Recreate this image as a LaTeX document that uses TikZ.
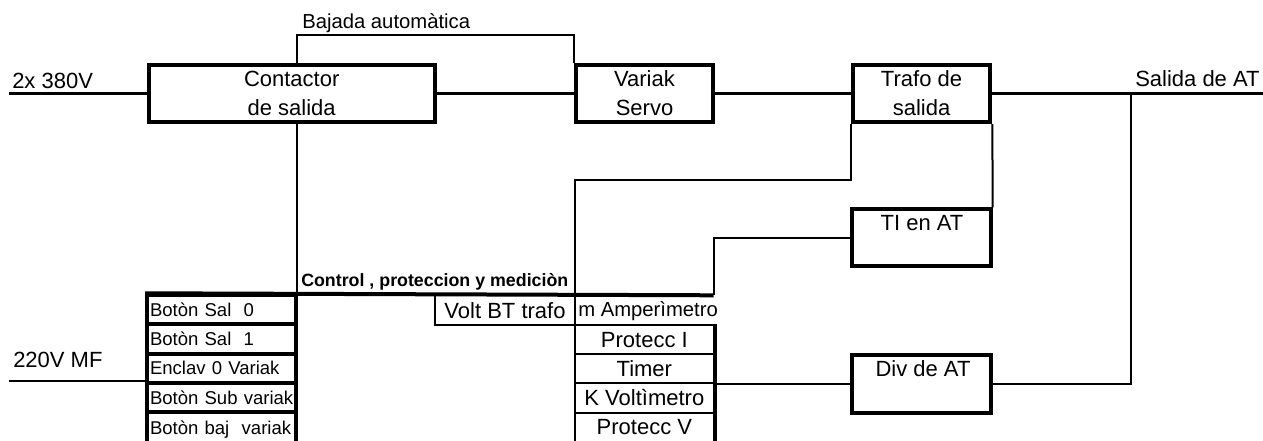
\documentclass[tikz,border=0pt]{standalone}
\usepackage{fontspec}
\setmainfont{Liberation Sans}
\usetikzlibrary{calc}
\newcommand\fsmain{\fontsize{16.5}{21.75}\selectfont}
\newcommand\fsmid{\fontsize{15.2}{18}\selectfont}
\newcommand\fsbtn{\fontsize{13.9}{16}\selectfont}
\newcommand\fsctl{\fontsize{13.35}{16}\selectfont\bfseries}
\begin{document}
\begin{tikzpicture}[x=0.75pt,y=-0.75pt,
  boxline/.style={line width=3pt},
  mainline/.style={line width=2.5pt},
  thinline/.style={line width=1.5pt},
  bigbox/.style={draw, boxline, inner sep=0pt, align=center, font=\fsmain, minimum height=43pt},
  btn/.style={draw, boxline, inner xsep=2.25pt, inner ysep=0pt, text width=107.6pt, align=left,
              minimum height=21.9pt, font=\fsbtn},
  rrow/.style={draw, thinline, inner sep=0pt, minimum width=104pt, minimum height=21.9pt, font=\fsmain},
  txt/.style={inner sep=0pt, font=\fsmain},
]
\useasboundingbox (0,0) rectangle (1263,441);

% main boxes
\node[bigbox, minimum width=214.5pt] (contactor) at (291.7,93.5) {Contactor\\de salida};
\node[bigbox, minimum width=102.75pt] (variak) at (644.5,93.5) {Variak\\Servo};
\node[bigbox, minimum width=103.2pt] (trafo) at (921.5,93.5) {Trafo de\\salida};
\node[draw, boxline, inner sep=0pt, minimum width=104pt, minimum height=42.75pt] (ti) at (921.4,237.8) {};
\node[txt, anchor=base] (tilabel) at (922,231) {TI en AT};
\node[draw, boxline, inner sep=0pt, minimum width=104pt, minimum height=43.5pt] (div) at (921.4,384.3) {};
\node[txt, anchor=base] (divlabel) at (923,377) {Div de AT};

% coordinates
\coordinate (in380) at (9,93.5);
\coordinate (out) at (1266,93.5);
\coordinate (in220) at (9,384);
\coordinate (cj) at (297,295.3);
\coordinate (bj) at (0,35);
\coordinate (tp) at (575,180);
\coordinate (colbot) at (575,448);
\coordinate (c713) at (713.7,295.3);
\coordinate (tap) at (1131,93.5);

% labels
\node[txt, anchor=base west] (l380) at (12,89) {2x 380V};
\node[txt, anchor=base west] (lout) at (1135,87) {Salida de AT};
\node[txt, anchor=base west] (l220) at (13,368) {220V MF};
\node[txt, anchor=base west, font=\fsmid] (lbaj) at (302,29) {Bajada automàtica};
\node[txt, anchor=base west, font=\fsctl] (lctl) at (301,287) {Control , proteccion y mediciòn};

% buttons
\node[btn] (b1) at (221.75,309.9) {Botòn Sal\ \ 0};
\node[btn] (b2) at (221.75,339.1) {Botòn Sal\ \ 1};
\node[btn] (b3) at (221.75,368.3) {Enclav 0 Variak};
\node[btn] (b4) at (221.75,397.5) {Botòn Sub variak};
\node[btn, minimum height=25.5pt] (b5) at (221.75,429.1) {Botòn baj\ \ variak};

% right column
\node[draw, thinline, inner sep=0pt, minimum width=105pt, minimum height=22.3pt, font=\fsmain] (volt) at (505,310.15) {Volt BT trafo};
\node[txt, anchor=base west, font=\fsmid] (amp) at (578,317) {m Amperìmetro};
\node[rrow] (pi) at (644.35,339.6) {Protecc I};
\node[rrow] (tim) at (644.35,368.8) {Timer};
\node[rrow] (kv) at (644.35,398.0) {K Voltìmetro};
\node[rrow, draw=none] (pv) at (644.35,427.2) {Protecc V};
\draw[boxline] (pi.north east) -- ($(pv.south east)+(0,8)$);

% main power line
\draw[mainline] (in380) -- (contactor.west);
\draw[mainline] (contactor.east) -- (variak.west);
\draw[mainline] (variak.east) -- (trafo.west);
\draw[mainline] (trafo.east) -- (out);

% thin connectors
\draw[thinline] (contactor.north -| cj) -- (cj |- bj) -- (variak.north west |- bj) -- (variak.north west);
\draw[thinline] (contactor.south -| cj) -- (cj);
\draw[boxline] (b1.north west) -- (c713);
\draw[thinline] (trafo.south west) |- (tp) -- (colbot);
\draw[thinline] (trafo.south east) -- (ti.north east);
\draw[thinline] (ti.west) -| (c713);
\draw[thinline] (div.west) -- (div.west -| pi.east);
\draw[thinline] (div.east) -| (tap);
\draw[thinline] (b4.north west -| in220) -- (b4.north west);
\end{tikzpicture}
\end{document}
